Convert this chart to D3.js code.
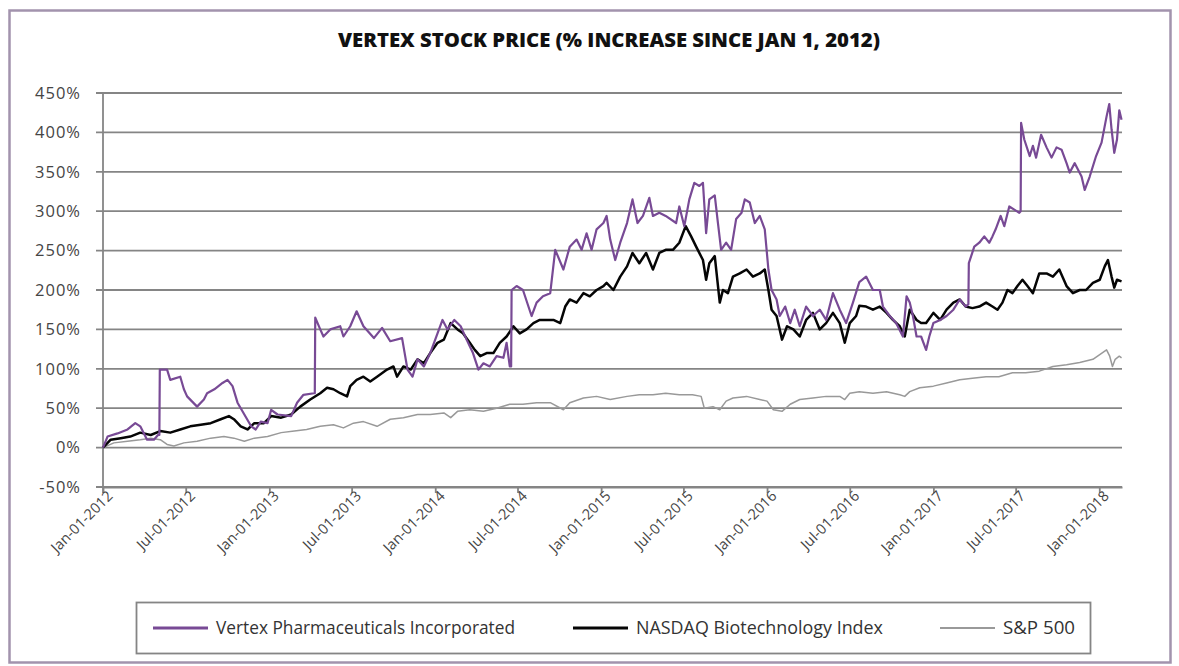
<!DOCTYPE html>
<html>
<head>
<meta charset="utf-8">
<script src="https://cdn.jsdelivr.net/npm/d3@7"></script>
<style>
  body { margin: 0; background: #fff; }
  svg { display: block; font-family: "Open Sans", sans-serif; }
</style>
</head>
<body>
<svg id="chart"></svg>
<script>
// Vertex Pharmaceuticals (% increase since Jan 1, 2012)
const vertexDates = [
  '2012-01-01','2012-01-11','2012-02-02','2012-02-24','2012-03-12','2012-03-23','2012-04-07','2012-04-22','2012-05-01','2012-05-04',
  '2012-05-05','2012-05-21','2012-05-28','2012-06-19','2012-06-27','2012-07-04','2012-07-26','2012-08-10','2012-08-17','2012-09-02',
  '2012-09-20','2012-10-01','2012-10-12','2012-10-23','2012-11-07','2012-11-22','2012-12-02','2012-12-13','2012-12-28','2013-01-05',
  '2013-01-19','2013-02-18','2013-03-03','2013-03-17','2013-04-09','2013-04-11','2013-04-12','2013-04-23','2013-04-30','2013-05-15',
  '2013-06-06','2013-06-13','2013-06-28','2013-07-12','2013-07-27','2013-08-19','2013-09-06','2013-09-24','2013-10-20','2013-11-01',
  '2013-11-12','2013-11-23','2013-12-07','2013-12-21','2014-01-06','2014-01-17','2014-01-28','2014-02-12','2014-02-26','2014-03-11',
  '2014-03-25','2014-04-06','2014-04-17','2014-05-01','2014-05-16','2014-05-31','2014-06-07','2014-06-14','2014-06-17','2014-06-18',
  '2014-06-29','2014-07-13','2014-08-01','2014-08-12','2014-08-26','2014-09-11','2014-09-22','2014-10-10','2014-10-24','2014-11-08',
  '2014-11-19','2014-11-30','2014-12-11','2014-12-22','2015-01-06','2015-01-13','2015-01-21','2015-02-01','2015-02-12','2015-02-27',
  '2015-03-11','2015-03-22','2015-04-03','2015-04-17','2015-04-25','2015-05-09','2015-05-23','2015-06-15','2015-06-22','2015-07-03',
  '2015-07-14','2015-07-25','2015-08-05','2015-08-13','2015-08-20','2015-08-27','2015-09-08','2015-09-15','2015-09-22','2015-10-03',
  '2015-10-14','2015-10-25','2015-11-06','2015-11-13','2015-11-24','2015-12-05','2015-12-16','2015-12-27','2016-01-04','2016-01-11',
  '2016-01-22','2016-01-29','2016-02-10','2016-02-21','2016-03-02','2016-03-13','2016-03-27','2016-04-11','2016-04-26','2016-05-10',
  '2016-05-25','2016-06-09','2016-06-23','2016-07-08','2016-07-22','2016-08-06','2016-08-21','2016-09-05','2016-09-12','2016-09-27',
  '2016-10-11','2016-10-26','2016-11-03','2016-11-10','2016-11-17','2016-11-25','2016-12-05','2016-12-16','2016-12-23','2017-01-01',
  '2017-01-16','2017-01-30','2017-02-14','2017-02-28','2017-03-13','2017-03-19','2017-03-20','2017-04-01','2017-04-12','2017-04-23',
  '2017-05-04','2017-05-11','2017-05-18','2017-05-29','2017-06-06','2017-06-17','2017-06-28','2017-07-09','2017-07-12','2017-07-13',
  '2017-07-20','2017-08-01','2017-08-08','2017-08-15','2017-08-26','2017-09-07','2017-09-18','2017-09-29','2017-10-10','2017-10-21',
  '2017-10-28','2017-11-08','2017-11-23','2017-11-30','2017-12-11','2017-12-25','2018-01-06','2018-01-17','2018-01-23','2018-01-28',
  '2018-02-03','2018-02-09','2018-02-14','2018-02-19'
];
const vertexValues = [
  0,14,18,23,31,27,10,10,16,16,
  99,99,86,90,74,65,52,61,69,74,
  82,86,78,57,42,27,23,33,31,48,
  42,40,57,67,69,69,165,150,141,150,
  154,141,154,173,154,139,152,135,139,99,
  90,112,103,120,145,162,150,162,154,137,
  120,99,107,103,116,114,133,103,103,200,
  205,200,167,184,192,196,251,226,255,264,
  251,272,251,277,285,294,264,238,260,285,
  315,285,294,317,294,298,294,285,306,281,
  315,336,332,336,272,315,320,285,251,260,
  251,290,298,315,311,285,294,277,226,200,
  188,167,179,158,175,154,179,167,175,162,
  196,175,158,184,210,217,200,200,179,167,
  158,141,192,184,167,141,141,124,141,158,
  162,167,175,188,179,182,234,255,260,268,
  260,268,277,294,281,306,302,298,300,412,
  391,370,383,368,397,381,368,381,378,361,
  349,361,344,327,344,370,387,420,436,404,
  374,391,428,416
];

// NASDAQ Biotechnology Index
const nasdaqDates = [
  '2012-01-01','2012-01-18','2012-02-09','2012-03-01','2012-03-23','2012-04-15','2012-05-06','2012-05-28','2012-06-19','2012-07-11',
  '2012-08-03','2012-08-25','2012-09-16','2012-10-04','2012-10-15','2012-10-30','2012-11-14','2012-11-29','2012-12-20','2013-01-05',
  '2013-01-27','2013-02-18','2013-03-10','2013-04-01','2013-04-23','2013-05-08','2013-05-22','2013-06-06','2013-06-21','2013-06-28',
  '2013-07-12','2013-07-27','2013-08-11','2013-08-26','2013-09-17','2013-10-01','2013-10-09','2013-10-23','2013-11-08','2013-11-23',
  '2013-12-07','2013-12-21','2014-01-06','2014-01-20','2014-02-04','2014-02-19','2014-03-03','2014-03-18','2014-03-29','2014-04-10',
  '2014-04-24','2014-05-09','2014-05-23','2014-06-07','2014-06-22','2014-07-06','2014-07-21','2014-08-05','2014-08-19','2014-09-04',
  '2014-09-18','2014-10-03','2014-10-14','2014-10-24','2014-11-08','2014-11-23','2014-12-07','2014-12-22','2015-01-06','2015-01-13',
  '2015-01-28','2015-02-12','2015-02-27','2015-03-11','2015-03-26','2015-04-10','2015-04-25','2015-05-09','2015-05-23','2015-06-08',
  '2015-06-22','2015-07-06','2015-07-18','2015-07-29','2015-08-13','2015-08-20','2015-08-27','2015-09-08','2015-09-19','2015-09-26',
  '2015-10-07','2015-10-18','2015-11-02','2015-11-17','2015-12-01','2015-12-16','2015-12-27','2016-01-04','2016-01-11','2016-01-22',
  '2016-02-03','2016-02-14','2016-02-28','2016-03-13','2016-03-27','2016-04-11','2016-04-26','2016-05-10','2016-05-25','2016-06-09',
  '2016-06-20','2016-07-01','2016-07-15','2016-07-22','2016-08-06','2016-08-21','2016-09-05','2016-09-20','2016-10-04','2016-10-19',
  '2016-10-30','2016-11-10','2016-11-25','2016-12-05','2016-12-16','2017-01-01','2017-01-16','2017-01-30','2017-02-14','2017-02-28',
  '2017-03-13','2017-03-28','2017-04-12','2017-04-27','2017-05-11','2017-05-22','2017-06-02','2017-06-13','2017-06-24','2017-07-05',
  '2017-07-16','2017-07-27','2017-08-08','2017-08-22','2017-09-07','2017-09-21','2017-10-05','2017-10-21','2017-11-04','2017-11-19',
  '2017-12-03','2017-12-18','2018-01-02','2018-01-13','2018-01-20','2018-01-28','2018-02-03','2018-02-09','2018-02-19'
];
const nasdaqValues = [
  0,10,12,14,19,16,21,19,23,27,
  29,31,36,40,36,27,23,31,31,40,
  38,42,52,61,69,76,74,69,65,78,
  86,90,84,90,99,103,90,103,99,112,
  107,120,133,137,158,150,145,133,124,116,
  120,120,133,141,154,145,150,158,162,162,
  162,158,179,188,184,196,192,200,205,209,
  200,217,230,247,234,247,226,247,251,251,
  260,281,268,255,238,213,234,243,184,200,
  196,217,221,226,217,221,226,200,175,167,
  137,154,150,141,162,171,150,158,171,158,
  133,158,167,180,179,175,179,171,162,154,
  141,175,162,158,158,171,162,175,184,188,
  179,177,179,184,179,175,184,200,196,205,
  213,205,196,221,221,217,226,205,196,200,
  200,209,213,230,238,217,203,213,211
];

// S&P 500
const spDates = [
  '2012-01-01','2012-01-25','2012-02-24','2012-03-23','2012-04-15','2012-05-06','2012-05-21','2012-06-05','2012-06-27','2012-07-26',
  '2012-08-25','2012-09-23','2012-10-15','2012-11-07','2012-11-29','2012-12-28','2013-01-27','2013-02-25','2013-03-24','2013-04-23',
  '2013-05-22','2013-06-13','2013-07-05','2013-07-27','2013-08-26','2013-09-24','2013-10-23','2013-11-23','2013-12-21','2014-01-20',
  '2014-02-04','2014-02-19','2014-03-18','2014-04-17','2014-05-16','2014-06-14','2014-07-13','2014-08-12','2014-09-11','2014-10-10',
  '2014-10-24','2014-11-23','2014-12-22','2015-01-21','2015-02-27','2015-03-26','2015-04-25','2015-05-23','2015-06-22','2015-07-21',
  '2015-08-09','2015-08-16','2015-09-04','2015-09-19','2015-10-03','2015-10-18','2015-11-17','2015-12-16','2016-01-01','2016-01-15',
  '2016-02-03','2016-02-21','2016-03-13','2016-04-11','2016-05-10','2016-06-09','2016-06-20','2016-07-01','2016-07-22','2016-08-21',
  '2016-09-20','2016-10-19','2016-10-30','2016-11-10','2016-12-02','2017-01-01','2017-01-30','2017-02-28','2017-03-28','2017-04-27',
  '2017-05-25','2017-06-24','2017-07-23','2017-08-22','2017-09-21','2017-10-21','2017-11-19','2017-12-18','2018-01-02','2018-01-17',
  '2018-01-24','2018-01-30','2018-02-05','2018-02-14','2018-02-19'
];
const spValues = [
  0,6,8,10,12,10,4,2,6,8,
  12,14,12,8,12,14,19,21,23,27,
  29,25,31,33,27,36,38,42,42,44,
  38,46,48,46,50,55,55,57,57,48,
  57,63,65,61,65,67,67,69,67,67,
  65,50,52,48,59,63,65,61,59,48,
  46,55,61,63,65,65,61,69,71,69,
  71,67,65,71,76,78,82,86,88,90,
  90,95,95,97,103,105,108,112,118,124,
  116,103,112,116,114
];

const yTicks = [-50, 0, 50, 100, 150, 200, 250, 300, 350, 400, 450];
const xTickDates = [
  '2012-01-01','2012-07-01','2013-01-01','2013-07-01','2014-01-01','2014-07-01','2015-01-01',
  '2015-07-01','2016-01-01','2016-07-01','2017-01-01','2017-07-01','2018-01-01'
];
const seriesNames = ['Vertex Pharmaceuticals Incorporated', 'NASDAQ Biotechnology Index', 'S&P 500'];
const seriesColors = ['#784a95', '#050505', '#999999'];
const seriesWidths = [2.2, 2.5, 1.5];

const W = 1179, H = 666;
const plot = { left: 103, right: 1122, top: 93, bottom: 487 };
const parse = d3.timeParse('%Y-%m-%d');

const svg = d3.select('#chart').attr('width', W).attr('height', H);

// outer frame
svg.append('rect')
  .attr('x', 9.5).attr('y', 10.5)
  .attr('width', 1161).attr('height', 652)
  .attr('fill', 'none')
  .attr('stroke', '#a293ad')
  .attr('stroke-width', 2.5);

// title
svg.append('text')
  .attr('x', 609).attr('y', 47)
  .attr('text-anchor', 'middle')
  .attr('font-size', 18.5)
  .attr('font-weight', 800)
  .attr('fill', '#111')
  .attr('textLength', 542)
  .attr('lengthAdjust', 'spacingAndGlyphs')
  .text('VERTEX STOCK PRICE (% INCREASE SINCE JAN 1, 2012)');

const x = d3.scaleTime()
  .domain([parse('2012-01-01'), parse('2018-02-20')])
  .range([plot.left, plot.right]);

const y = d3.scaleLinear()
  .domain([-50, 450])
  .range([plot.bottom, plot.top]);

// gridlines (extend left into the tick marks)
svg.append('g')
  .selectAll('line')
  .data(yTicks)
  .enter()
  .append('line')
  .attr('x1', plot.left - 7)
  .attr('x2', plot.right)
  .attr('y1', d => y(d))
  .attr('y2', d => y(d))
  .attr('stroke', '#858585')
  .attr('stroke-width', 1.8);

// Y axis
const yAxis = svg.append('g')
  .attr('transform', `translate(${plot.left},0)`)
  .call(d3.axisLeft(y).tickValues(yTicks).tickSize(0).tickPadding(22).tickFormat(d => d + '%'));
yAxis.select('.domain').remove();
yAxis.selectAll('text')
  .attr('font-family', '"Open Sans", sans-serif')
  .attr('font-size', 16.5)
  .attr('letter-spacing', 1)
  .attr('fill', '#454545');

svg.append('line')
  .attr('x1', plot.left).attr('x2', plot.left)
  .attr('y1', plot.top).attr('y2', plot.bottom + 6)
  .attr('stroke', '#858585')
  .attr('stroke-width', 1.8);

// X axis
const xAxis = svg.append('g')
  .attr('transform', `translate(0,${plot.bottom})`)
  .call(d3.axisBottom(x)
    .tickValues(xTickDates.map(parse))
    .tickSizeInner(6).tickSizeOuter(0)
    .tickFormat(d3.timeFormat('%b-%d-%Y')));
xAxis.select('.domain').attr('stroke', '#858585').attr('stroke-width', 1.8);
xAxis.selectAll('.tick line').attr('stroke', '#858585').attr('stroke-width', 1.8);
xAxis.selectAll('text')
  .attr('font-family', '"Open Sans", sans-serif')
  .attr('font-size', 14.5)
  .attr('fill', '#454545')
  .attr('text-anchor', 'end')
  .attr('dy', null)
  .attr('y', 0)
  .attr('transform', 'translate(10,10) rotate(-45)');

// lines
const line = d3.line()
  .x(d => x(d.date))
  .y(d => y(d.value));

const series = [
  { dates: spDates, values: spValues, i: 2 },
  { dates: nasdaqDates, values: nasdaqValues, i: 1 },
  { dates: vertexDates, values: vertexValues, i: 0 }
];

series.forEach(s => {
  const data = s.dates.map((d, k) => ({ date: parse(d), value: s.values[k] }));
  svg.append('path')
    .datum(data)
    .attr('fill', 'none')
    .attr('stroke', seriesColors[s.i])
    .attr('stroke-width', seriesWidths[s.i])
    .attr('stroke-linejoin', 'round')
    .attr('d', line);
});

// legend
const legend = svg.append('g');
legend.append('rect')
  .attr('x', 136.5).attr('y', 602.5)
  .attr('width', 954).attr('height', 51)
  .attr('fill', '#fff')
  .attr('stroke', '#858585')
  .attr('stroke-width', 1.8);

const legendX = [153, 573, 940];
const legendTextLen = [299, 247, 72];
seriesNames.forEach((name, i) => {
  legend.append('line')
    .attr('x1', legendX[i]).attr('x2', legendX[i] + 55)
    .attr('y1', 628).attr('y2', 628)
    .attr('stroke', seriesColors[i])
    .attr('stroke-width', seriesWidths[i] + 0.6);
  legend.append('text')
    .attr('x', legendX[i] + 63).attr('y', 634)
    .attr('font-size', 17.5)
    .attr('fill', '#333')
    .attr('textLength', legendTextLen[i])
    .attr('lengthAdjust', 'spacingAndGlyphs')
    .text(name);
});
</script>
</body>
</html>
